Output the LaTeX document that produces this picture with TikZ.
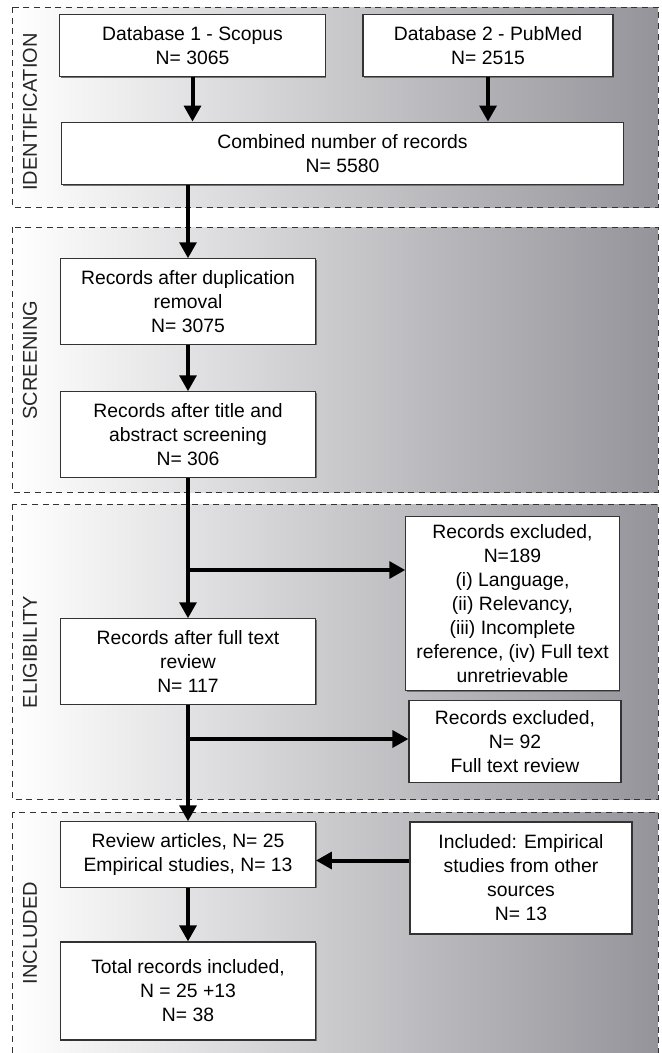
\documentclass[tikz,border=0pt]{standalone}
\usepackage{fontspec}
\setmainfont{Liberation Sans}
\usepackage{tikz}
\usetikzlibrary{arrows.meta,positioning,shadows}

\definecolor{shadeend}{RGB}{148,148,154}

\begin{document}
\begin{tikzpicture}[
    x=0.75pt, y=-0.75pt,
    phase/.style={draw=black!80, line width=0.6pt, dash pattern=on 4.5pt off 3.5pt, left color=white, middle color=black!12, right color=shadeend},
    phaselabel/.style={rotate=90, font=\fontsize{15}{17}\selectfont, text=black!85},
    block/.style={rectangle, draw=black!80, line width=0.8pt, fill=white, align=center, inner sep=2pt, font=\fontsize{14.5}{18}\selectfont, drop shadow={shadow xshift=0.9pt, shadow yshift=-0.9pt, fill=black!55, opacity=1}},
    arrow/.style={line width=3pt, -{Triangle[length=12pt,width=12.5pt]}}
]
    \useasboundingbox (0,0) rectangle (661,1053);

    % phases
    \path[phase] (12,7) rectangle (658,207);
    \path[phase] (12,227) rectangle (658,492);
    \path[phase] (12,504) rectangle (658,799);
    \path[phase] (12,812) rectangle (658,1058);

    \node[phaselabel] (lid) at (30,112) {IDENTIFICATION};
    \node[phaselabel] (lscr) at (30,360) {SCREENING};
    \node[phaselabel] (lelig) at (30,652) {ELIGIBILITY};
    \node[phaselabel] (linc) at (30,933) {INCLUDED};

    % identification
    \node[block, minimum width=199pt, minimum height=47pt] (db1) at (192.5,45.5) {Database 1 - Scopus\\N= 3065};
    \node[block, minimum width=187.5pt, minimum height=47pt] (db2) at (488,45.5) {Database 2 - PubMed\\N= 2515};
    \node[block, minimum width=421pt, minimum height=47pt] (comb) at (342.5,153.5) {Combined number of records\\N= 5580};

    % screening
    \node[block, minimum width=191pt, minimum height=64pt] (dup) at (188,301.5) {Records after duplication\\removal\\N= 3075};
    \node[block, minimum width=191pt, minimum height=64pt] (title) at (188,434.5) {Records after title and\\abstract screening\\N= 306};

    % eligibility
    \node[block, minimum width=160pt, minimum height=131pt] (excl1) at (512.5,603.5) {Records excluded,\\N=189\\(i) Language,\\(ii) Relevancy,\\(iii) Incomplete\\reference, (iv) Full text\\unretrievable};
    \node[block, minimum width=191pt, minimum height=64pt] (full) at (188,661.5) {Records after full text\\review\\N= 117};
    \node[block, minimum width=159pt, minimum height=61pt] (excl2) at (515,741.5) {Records excluded,\\N= 92\\Full text review};

    % included
    \node[block, minimum width=191pt, minimum height=49pt] (rev) at (188,854.5) {Review articles, N= 25\\Empirical studies, N= 13};
    \node[block, minimum width=166.5pt, minimum height=84pt] (other) at (521,878) {Included: Empirical\\studies from other\\sources\\N= 13};
    \node[block, minimum width=191pt, minimum height=73.5pt] (total) at (188,991) {Total records included,\\N = 25 +13\\N= 38};

    \coordinate (split1) at (188,570);
    \coordinate (split2) at (188,739);

    \draw[arrow] (db1.south) -- (db1.south |- comb.north);
    \draw[arrow] (db2.south) -- (db2.south |- comb.north);
    \draw[arrow] (dup.north |- comb.south) -- (dup.north);
    \draw[arrow] (dup) -- (title);
    \draw[arrow] (title) -- (full);
    \draw[arrow] (split1) -- (split1 -| excl1.west);
    \draw[arrow] (full) -- (rev);
    \draw[arrow] (split2) -- (split2 -| excl2.west);
    \draw[arrow] ([yshift=-4.5pt]other.west |- rev.east) -- ([yshift=-4.5pt]rev.east);
    \draw[arrow] (rev) -- (total);
\end{tikzpicture}
\end{document}
